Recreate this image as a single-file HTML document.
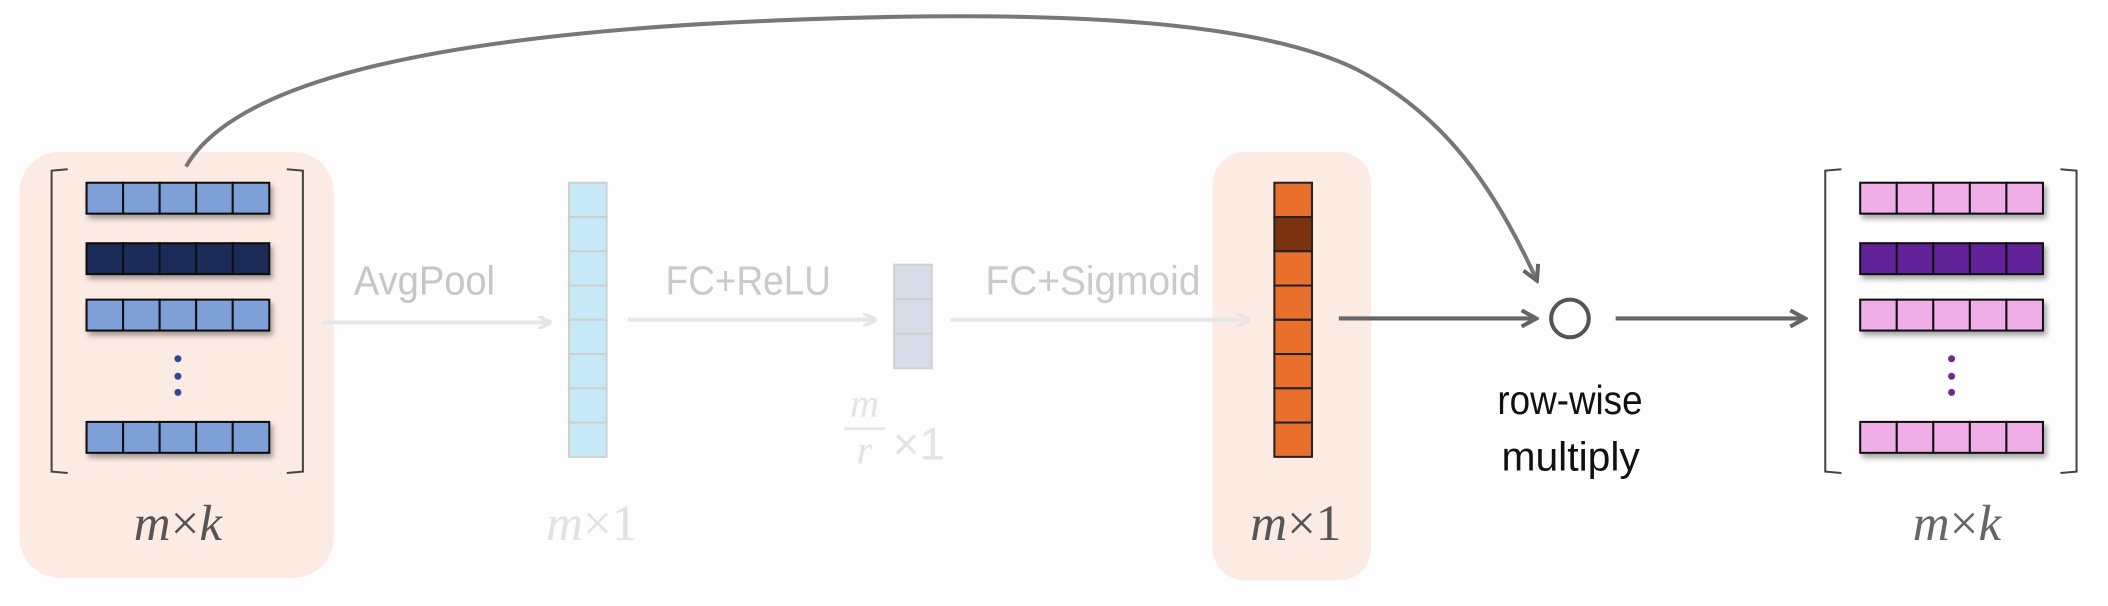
<!DOCTYPE html>
<html><head><meta charset="utf-8"><style>
html,body{margin:0;padding:0;background:#fefdfd;}
svg{display:block}
text{font-family:"Liberation Sans",sans-serif;}
.mx{font-family:"Liberation Serif",serif;font-style:italic;}
</style></head><body>
<svg width="2108" height="606" viewBox="0 0 1568 451" xmlns="http://www.w3.org/2000/svg">
<defs>
<marker id="ag" markerWidth="10" markerHeight="10" refX="8" refY="5" orient="auto" markerUnits="userSpaceOnUse"><path d="M0,0 L10,5 L0,10" fill="none" stroke="#e4e4e4" stroke-width="2.5"/></marker>
<marker id="ad" markerWidth="14" markerHeight="14" refX="11" refY="7" orient="auto" markerUnits="userSpaceOnUse"><path d="M1,1 L12,7 L1,13" fill="none" stroke="#666" stroke-width="3"/></marker>
<filter id="sh" x="-10%" y="-30%" width="130%" height="180%"><feDropShadow dx="2" dy="3" stdDeviation="2" flood-opacity="0.35"/></filter>
</defs>
<rect x="14" y="113" width="234" height="317" rx="30" fill="#fcebe3"/>
<rect x="902" y="113" width="118" height="319" rx="24" fill="#fcebe3"/>
<path d="M138,124 C170,68 290,32 520,18 C760,5 930,12 1010,52 C1075,86 1112,140 1143,208" fill="none" stroke="#777" stroke-width="3" marker-end="url(#ad)"/>
<g id="g"></g>
<text x="263" y="219" font-size="30" textLength="105" lengthAdjust="spacingAndGlyphs" fill="#c6c6c6">AvgPool</text>
<text x="495" y="219" font-size="30" textLength="123" lengthAdjust="spacingAndGlyphs" fill="#cacaca">FC+ReLU</text>
<text x="733" y="219" font-size="30" textLength="160" lengthAdjust="spacingAndGlyphs" fill="#cacaca">FC+Sigmoid</text>
<line x1="240" y1="240" x2="408" y2="240" stroke="#e6e6e6" stroke-width="3" marker-end="url(#ag)"/>
<line x1="467" y1="238" x2="650" y2="238" stroke="#e6e6e6" stroke-width="3" marker-end="url(#ag)"/>
<line x1="707" y1="238" x2="928" y2="238" stroke="#e6e6e6" stroke-width="3" marker-end="url(#ag)"/>
<line x1="996" y1="237" x2="1142" y2="237" stroke="#666" stroke-width="3" marker-end="url(#ad)"/>
<line x1="1202" y1="237" x2="1342" y2="237" stroke="#666" stroke-width="3" marker-end="url(#ad)"/>
<circle cx="1168" cy="237" r="14" fill="none" stroke="#555" stroke-width="3"/>
<text x="1114" y="308" font-size="30" textLength="108" lengthAdjust="spacingAndGlyphs" fill="#111">row-wise</text>
<text x="1117" y="350" font-size="30" textLength="103" lengthAdjust="spacingAndGlyphs" fill="#111">multiply</text>
<text x="132" y="402" font-size="38" text-anchor="middle" fill="#555" class="mx">m<tspan font-style="normal">×</tspan>k</text>
<text x="440" y="402" font-size="38" text-anchor="middle" fill="#e2e2e2" class="mx">m<tspan font-style="normal">×1</tspan></text>
<text x="964" y="402" font-size="38" text-anchor="middle" fill="#555" class="mx">m<tspan font-style="normal">×1</tspan></text>
<text x="1456" y="402" font-size="38" text-anchor="middle" fill="#666" class="mx">m<tspan font-style="normal">×</tspan>k</text>
<g fill="#e4e4e4">
<text x="643" y="310" font-size="30" text-anchor="middle" class="mx">m</text>
<rect x="628" y="318" width="30" height="2"/>
<text x="643" y="345" font-size="30" text-anchor="middle" class="mx">r</text>
<text x="664" y="342" font-size="34" font-family="Liberation Serif, serif">×1</text>
</g>
</svg>
<script>
const g=document.getElementById('g');
const NS='http://www.w3.org/2000/svg';
function mk(t,a,p){const e=document.createElementNS(NS,t);for(const k in a)e.setAttribute(k,a[k]);(p||g).appendChild(e);return e;}
function bracket(xl,xr,name){
  const b=mk('path',{d:`M${xl+12},126 L${xl},127 L${xl},351 L${xl+12},352 M${xr-12},126 L${xr},127 L${xr},351 L${xr-12},352`,fill:'none',stroke:'#444','stroke-width':1.5});
  
  
}
function matrix(x0,light,dark,dot,name){
  const rows=[[136,light],[181,dark],[223,light],[314,light]];
  rows.forEach((r,i)=>{
    const grp=mk('g',{filter:'url(#sh)'});
    
    
    for(let c=0;c<5;c++) mk('rect',{x:x0+c*27.2,y:r[0],width:27.2,height:23,fill:r[1],stroke:'#111','stroke-width':1.5},grp);
  });
  [267,280,292].forEach(y=>{
    const d=mk('circle',{cx:x0+68,cy:y,r:2.6,fill:dot});
    
    
  });
}
function column(x,y,n,h,fill,stroke,name,special){
  for(let i=0;i<n;i++){
    const r=mk('rect',{x:x,y:y+i*h,width:28,height:h,fill:(special&&i===1)?special:fill,stroke:stroke,'stroke-width':1.5});
    
    
  }
}
bracket(38,225,'input-brackets');
matrix(64,'#7f9fd8','#1c2c58','#2a4a9a','input-matrix');
column(423,136,8,25.5,'#c6e9f7','#cfcfcf','pooled-vector');
column(665,197,3,25.7,'#d6dde8','#d0d0d0','reduced-vector');
column(948,136,8,25.5,'#e9702c','#222','scale-vector','#7a3210');
bracket(1358,1545,'output-brackets');
matrix(1384,'#f0aee8','#62219a','#6a2a9a','output-matrix');
</script>
</body></html>
